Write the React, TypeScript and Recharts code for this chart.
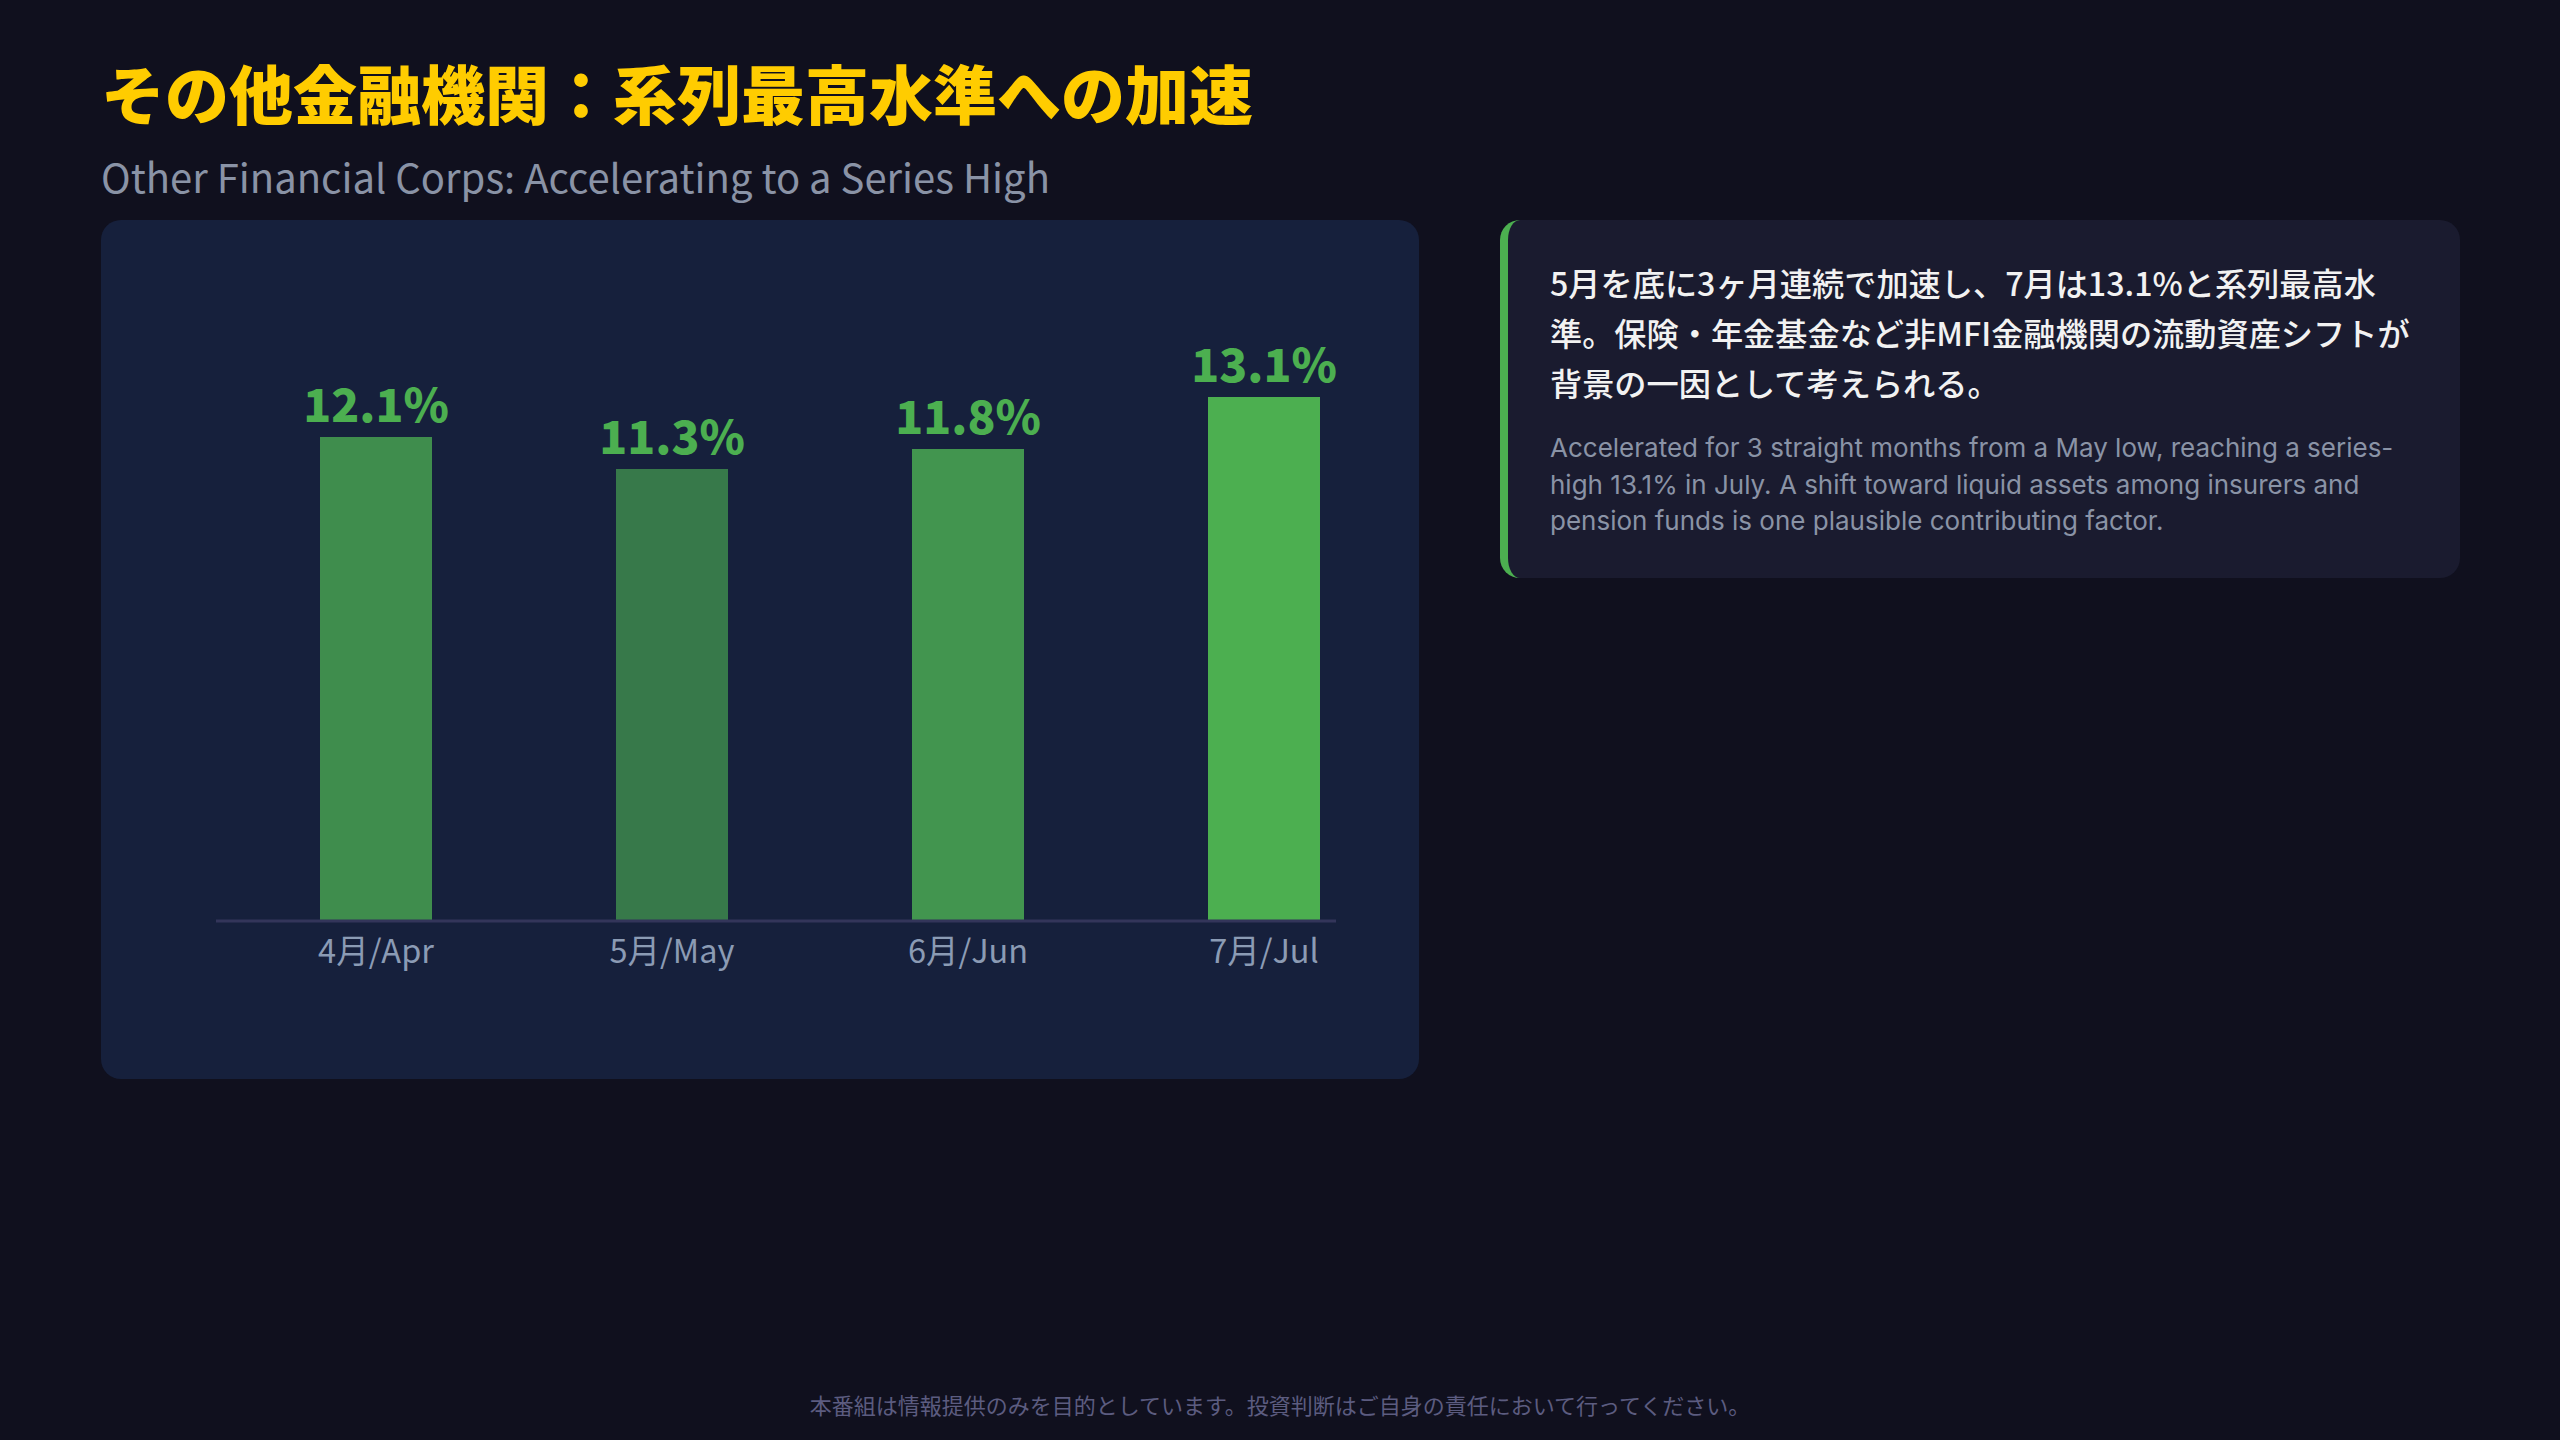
import { BarChart, Bar, XAxis, YAxis, Cell, LabelList } from "recharts";

const FONT = '"Noto Sans CJK JP", "Noto Sans", sans-serif';

const TITLE = "その他金融機関：系列最高水準への加速";
const SUBTITLE = "Other Financial Corps: Accelerating to a Series High";

const MONTHS = ["4月/Apr", "5月/May", "6月/Jun", "7月/Jul"];
const RATES = [12.1, 11.3, 11.8, 13.1];
const BAR_COLORS = ["#3f8d4d", "#37794a", "#42954f", "#4caf50"];

const NOTE_JA = [
    "5月を底に3ヶ月連続で加速し、7月は13.1%と系列最高水",
    "準。保険・年金基金など非MFI金融機関の流動資産シフトが",
    "背景の一因として考えられる。",
];
const NOTE_EN = [
    "Accelerated for 3 straight months from a May low, reaching a series-",
    "high 13.1% in July. A shift toward liquid assets among insurers and",
    "pension funds is one plausible contributing factor.",
];

const FOOTER = "本番組は情報提供のみを目的としています。投資判断はご自身の責任において行ってください。";

const data = MONTHS.map((m, i) => ({ month: m, rate: RATES[i] }));

export default function App() {
    return (
        <div
            style={{
                position: "fixed", left: 0, top: 0, width: 2560, height: 1440,
                background: "#10101e", fontFamily: FONT, overflow: "hidden",
            }}
        >
            <div style={{ position: "absolute", left: 101, top: 59, fontSize: 64, lineHeight: "64px", fontWeight: 900, color: "#ffcc00", whiteSpace: "nowrap" }}>
                {TITLE}
            </div>
            <div style={{ position: "absolute", left: 101, top: 156, fontSize: 40, lineHeight: "40px", color: "#8a93a6", whiteSpace: "nowrap" }}>
                {SUBTITLE}
            </div>

            {/* chart panel */}
            <div style={{ position: "absolute", left: 101, top: 220, width: 1318, height: 859, background: "#16203c", borderRadius: 20 }}>
                <BarChart width={1318} height={859} data={data} margin={{ top: 101, right: 83, bottom: 98, left: 115 }}>
                    <XAxis
                        dataKey="month"
                        interval={0}
                        height={60}
                        padding={{ left: 12, right: -76 }}
                        tickLine={false}
                        tickMargin={13}
                        axisLine={{ stroke: "#33355a", strokeWidth: 3 }}
                        tick={{ fill: "#8b9bb4", fontSize: 32.5, fontFamily: FONT }}
                    />
                    <YAxis hide domain={[0, 15]} />
                    <Bar dataKey="rate" barSize={112} isAnimationActive={false}>
                        {data.map((_, i) => (
                            <Cell key={i} fill={BAR_COLORS[i]} />
                        ))}
                        <LabelList
                            dataKey="rate"
                            position="top"
                            offset={15}
                            formatter={(v: number) => `${v}%`}
                            fill="#4caf50"
                            fontSize={46}
                            fontWeight={900}
                            fontFamily={FONT}
                        />
                    </Bar>
                </BarChart>
            </div>

            {/* commentary panel */}
            <div
                style={{
                    position: "absolute", left: 1500, top: 220, width: 960, height: 358,
                    boxSizing: "border-box", background: "#1a1b2f", borderRadius: 20,
                    borderLeft: "8px solid #4caf50", padding: "37px 40px 0 42px",
                }}
            >
                <div style={{ fontSize: 32.2, lineHeight: "50px", color: "#f2f2f2", fontWeight: 500, whiteSpace: "nowrap" }}>
                    {NOTE_JA.map((l, i) => <div key={i}>{l}</div>)}
                </div>
                <div style={{ marginTop: 23, fontSize: 26, lineHeight: "36.5px", color: "#8a93a6", whiteSpace: "nowrap", fontFamily: "Inter, " + FONT }}>
                    {NOTE_EN.map((l, i) => <div key={i}>{l}</div>)}
                </div>
            </div>

            <div style={{ position: "absolute", left: 0, top: 1390, width: 2560, textAlign: "center", fontSize: 22, lineHeight: "28px", color: "#5c5c80" }}>
                {FOOTER}
            </div>
        </div>
    );
}
